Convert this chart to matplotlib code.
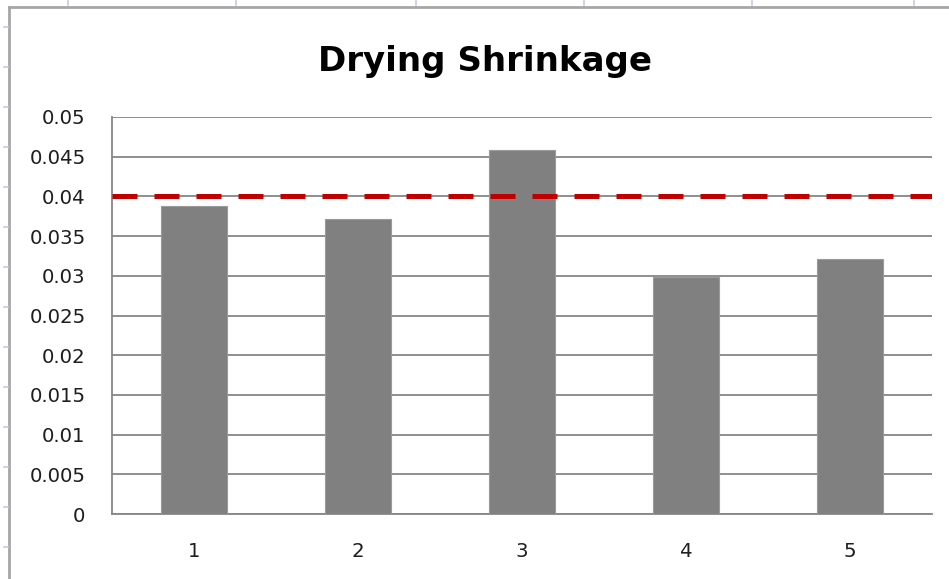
import matplotlib
matplotlib.use("Agg")
import matplotlib.pyplot as plt
from matplotlib.lines import Line2D

# Data
samples = ["1", "2", "3", "4", "5"]
shrinkage = [0.0388, 0.0371, 0.0458, 0.0299, 0.0321]
limit = 0.04
y_ticks = [0, 0.005, 0.01, 0.015, 0.02, 0.025, 0.03, 0.035, 0.04, 0.045, 0.05]
y_tick_labels = ["0", "0.005", "0.01", "0.015", "0.02", "0.025", "0.03",
                 "0.035", "0.04", "0.045", "0.05"]

W, H = 949, 579
fig = plt.figure(figsize=(W / 100, H / 100), dpi=100)
fig.patch.set_facecolor("white")

font = "DejaVu Sans"
grid_c = "#868686"

ax = fig.add_axes([112 / W, 1 - 514 / H, (932 - 112) / W, (514 - 117) / H])
x = range(len(samples))
ax.bar(x, shrinkage, width=0.4, color="#808080", edgecolor="#9a9a9a",
       linewidth=0.8, zorder=3)
ax.axhline(limit, color="#C00000", linewidth=3.6, zorder=4,
           dashes=(5.0, 3.4), solid_capstyle="butt", dash_capstyle="butt")

ax.set_xlim(-0.5, len(samples) - 0.5)
ax.set_ylim(0, 0.05)
ax.set_xticks(list(x))
ax.set_xticklabels(samples, fontfamily=font, fontsize=14.2, color="#1e1e1e")
ax.set_yticks(y_ticks)
ax.set_yticklabels(y_tick_labels, fontfamily=font, fontsize=14.2, color="#1e1e1e")
ax.tick_params(axis="both", length=0)
ax.tick_params(axis="x", pad=20)
ax.tick_params(axis="y", pad=19)
ax.yaxis.grid(True, color=grid_c, linewidth=1.3, zorder=1)
ax.set_axisbelow(True)
for s in ["top", "right"]:
    ax.spines[s].set_visible(False)
for s in ["left", "bottom"]:
    ax.spines[s].set_color(grid_c)
    ax.spines[s].set_linewidth(1.3)
    ax.spines[s].set_zorder(2)

fig.text(485 / W, 1 - 71 / H, "Drying Shrinkage", ha="center", va="baseline",
         fontfamily=font, fontweight="bold", fontsize=24.5, color="black")

# Chart-area frame and the sheet's row/column marks around it
frame_c = "#a6a6a6"
fig.add_artist(Line2D([9 / W, 9 / W], [0, 1 - 7 / H], color=frame_c,
                      linewidth=2.0, transform=fig.transFigure))
fig.add_artist(Line2D([9 / W, 1], [1 - 7 / H, 1 - 7 / H], color=frame_c,
                      linewidth=2.0, transform=fig.transFigure))
mark_c = "#c5cbe0"
for yp in range(27, H, 40):
    fig.add_artist(Line2D([4 / W, 8 / W], [1 - yp / H] * 2, color=mark_c,
                          linewidth=1.2, transform=fig.transFigure))
for xp in [68, 236, 416, 584, 752, 914]:
    fig.add_artist(Line2D([xp / W] * 2, [1 - 1 / H, 1 - 5 / H], color=mark_c,
                          linewidth=1.2, transform=fig.transFigure))

fig.savefig("out.png", dpi=100, facecolor="white")
